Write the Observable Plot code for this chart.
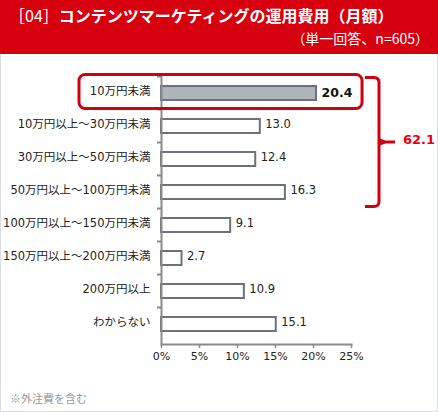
<!DOCTYPE html>
<html lang="ja">
<head>
<meta charset="utf-8">
<script src="https://cdn.jsdelivr.net/npm/d3@7"></script>
<script src="https://cdn.jsdelivr.net/npm/@observablehq/plot@0.6"></script>
<style>
  html, body { margin: 0; padding: 0; background: #fff; }
  #wrap { position: relative; width: 438px; height: 412px; overflow: hidden; font-family: "DejaVu Sans", "Noto Sans CJK JP", sans-serif; }
  #header { position: absolute; left: 0; top: 0; width: 438px; height: 54px; background: #d7000f; color: #fff; }
  #title { position: absolute; left: 9px; top: 6px; font-family: "Noto Sans CJK JP", sans-serif; font-size: 16px; font-weight: 700; white-space: nowrap; line-height: 18px; }
  #title .num { font-weight: 400; font-family: "Noto Sans CJK JP", sans-serif; }
  #subtitle { position: absolute; right: 9px; top: 29.5px; font-family: "Noto Sans CJK JP", sans-serif; font-size: 14px; white-space: nowrap; line-height: 16px; }
  #frame { position: absolute; left: 0; top: 54px; width: 438px; height: 358px; box-sizing: border-box; border-left: 1px solid #dcdce6; border-right: 1px solid #dcdce6; border-bottom: 1px solid #dcdce6; }
  #chart { position: absolute; left: 0; top: 54px; }
  #note { position: absolute; left: 10px; top: 390px; font-family: "Noto Sans CJK JP", sans-serif; font-size: 11px; color: #999; white-space: nowrap; line-height: 16px; }
</style>
</head>
<body>
<div id="wrap">
  <div id="header">
    <div id="title"><span class="num">［04］</span>コンテンツマーケティングの運用費用（月額）</div>
    <div id="subtitle">（単一回答、n=605）</div>
  </div>
  <div id="frame"></div>
  <div id="chart"></div>
  <div id="note">※外注費を含む</div>
</div>
<script>
const categories = [
  "10万円未満",
  "10万円以上～30万円未満",
  "30万円以上～50万円未満",
  "50万円以上～100万円未満",
  "100万円以上～150万円未満",
  "150万円以上～200万円未満",
  "200万円以上",
  "わからない"
];
const values = [20.4, 13.0, 12.4, 16.3, 9.1, 2.7, 10.9, 15.1];
const highlightIndex = 0;
const bracketCount = 4;
const xTicks = [0, 5, 10, 15, 20, 25];

const data = categories.map((c, i) => ({category: c, value: values[i], highlight: i === highlightIndex}));
const bracketTotal = values.slice(0, bracketCount).reduce((a, b) => a + b, 0);

const RED = "#d0000f";
const AXIS = "#8a8a8a";
const BAR_STROKE = "#6d717d";

function annotations(index, scales, vals, dimensions) {
  const x = scales.x, y = scales.y;
  const bw = y.bandwidth();
  const step = y.step();
  const gap = (step - bw) / 2;
  const g = d3.create("svg:g");
  // boundary ticks on the category axis
  categories.forEach((c) => {
    const yy = y(c) - gap;
    g.append("line")
      .attr("x1", x(0) - 4).attr("x2", x(0))
      .attr("y1", yy).attr("y2", yy)
      .attr("stroke", AXIS).attr("stroke-width", 2);
  });
  // highlight box
  const c0 = categories[highlightIndex];
  const top = y(c0) - gap - 2;
  g.append("rect")
    .attr("x", x(0) - 82).attr("y", top)
    .attr("width", (x(values[highlightIndex]) + 46) - (x(0) - 82))
    .attr("height", step + 1)
    .attr("rx", 6).attr("ry", 6)
    .attr("fill", "none").attr("stroke", RED).attr("stroke-width", 3);
  // brace
  const y0 = y(categories[0]) - gap + 1;
  const y1 = y(categories[bracketCount - 1]) + bw + gap - 2;
  const ym = (y0 + y1) / 2;
  const xl = x(25) + 14, xr = x(25) + 28, r = 5;
  g.append("path")
    .attr("d", `M${xl},${y0}H${xr - r}Q${xr},${y0} ${xr},${y0 + r}V${y1 - r}Q${xr},${y1} ${xr - r},${y1}H${xl}M${xr},${ym}H${xr + 16}`)
    .attr("fill", "none").attr("stroke", RED).attr("stroke-width", 3);
  g.append("path")
    .attr("d", `M${xr},${ym - 4}L${xr + 6},${ym - 1.5}L${xr + 6},${ym + 1.5}L${xr},${ym + 4}Z`)
    .attr("fill", RED);
  g.append("text")
    .attr("x", xr + 24).attr("y", ym - 3).attr("dy", "0.35em")
    .attr("text-anchor", "start")
    .attr("fill", "#e60012").attr("font-weight", "bold").attr("font-size", 13)
    .attr("font-family", "DejaVu Sans, sans-serif")
    .text(bracketTotal.toFixed(1));
  return g.node();
}

const chart = Plot.plot({
  width: 438,
  height: 318,
  marginTop: 19,
  marginBottom: 28,
  marginLeft: 161,
  marginRight: 87,
  style: {fontFamily: "'DejaVu Sans', 'Noto Sans CJK JP', sans-serif", fontSize: "11.5px", color: "#222", background: "transparent", overflow: "visible"},
  x: {domain: [0, 25], ticks: xTicks},
  y: {domain: categories, paddingInner: 0.59, paddingOuter: 0.295},
  color: {type: "identity"},
  marks: [
    Plot.barX(data, {x: "value", y: "category", fill: d => d.highlight ? "#adb4bc" : "#ffffff", stroke: BAR_STROKE, strokeWidth: 2}),
    Plot.ruleX([0], {stroke: AXIS, strokeWidth: 2}),
    Plot.frame({anchor: "bottom", stroke: AXIS, strokeWidth: 2}),
    Plot.axisX({ticks: xTicks, tickFormat: d => d + "%", tickSize: 4, tickPadding: 4, stroke: AXIS, strokeWidth: 1.5, label: null, fontSize: 11, fill: "#222"}),
    Plot.axisY({tickSize: 0, tickPadding: 11, label: null, fontSize: 11.5, fill: "#222", dy: -2}),
    Plot.text(data.filter(d => !d.highlight), {x: "value", y: "category", text: d => d.value.toFixed(1), textAnchor: "start", dx: 5, dy: -2, fontSize: 11.5, fill: "#222"}),
    Plot.text(data.filter(d => d.highlight), {x: "value", y: "category", text: d => d.value.toFixed(1), textAnchor: "start", dx: 5, dy: -1, fontSize: 12.5, fontWeight: "bold", fill: "#111"}),
    annotations
  ]
});
document.getElementById("chart").appendChild(chart);
</script>
</body>
</html>
